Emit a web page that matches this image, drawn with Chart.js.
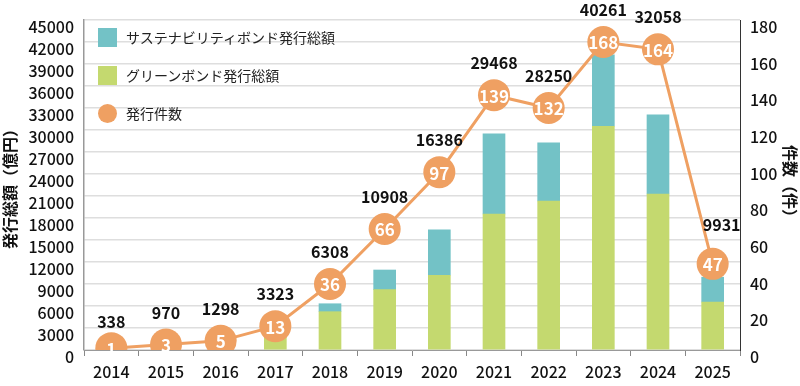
<!DOCTYPE html>
<html>
<head>
<meta charset="utf-8">
<script src="https://cdn.jsdelivr.net/npm/chart.js@4.4.1/dist/chart.umd.min.js"></script>
<style>
  body { margin: 0; background: #fff; }
  #wrap { position: relative; width: 800px; height: 386px; }
  #legend { position: absolute; left: 98px; top: 28px; list-style: none; margin: 0; padding: 0;
    font-family: "Noto Sans CJK JP", sans-serif; font-size: 14px; color: #222; }
  #legend li { height: 19px; line-height: 19px; margin-bottom: 19px; position: relative; padding-left: 28px; }
  #legend .sw { position: absolute; left: 0; top: 0; width: 19px; height: 19px; }
  #legend .dot { border-radius: 50%; }
</style>
</head>
<body>
<div id="wrap">
  <canvas id="myChart" width="800" height="386"></canvas>
  <ul id="legend"></ul>
</div>
<script>
const years = ["2014", "2015", "2016", "2017", "2018", "2019", "2020", "2021", "2022", "2023", "2024", "2025"];
const greenValues = [338, 900, 1200, 3100, 5224, 8225, 10190, 18550, 20324, 30513, 21278, 6547];
const sustainValues = [0, 70, 98, 223, 1084, 2683, 6196, 10918, 7926, 9748, 10780, 3384];
const totals = [338, 970, 1298, 3323, 6308, 10908, 16386, 29468, 28250, 40261, 32058, 9931];
const counts = [1, 3, 5, 13, 36, 66, 97, 139, 132, 168, 164, 47];

const colors = {
  sustain: "#73c2c6",
  green: "#c4d96f",
  count: "#efa062",
};

const font = "'Noto Sans CJK JP', sans-serif";

// 件数の丸の中の数字と、その上の合計額
const labelPlugin = {
  id: "labels",
  afterDatasetsDraw(chart) {
    const ctx = chart.ctx;
    const meta = chart.getDatasetMeta(2);
    ctx.save();
    ctx.textAlign = "center";
    ctx.textBaseline = "middle";
    meta.data.forEach((pt, i) => {
      ctx.fillStyle = "#fff";
      ctx.font = "bold 17px " + font;
      ctx.fillText(counts[i], pt.x, pt.y + 1);
      ctx.fillStyle = "#111";
      ctx.font = "bold 16px " + font;
      let dx = 0, dy = 32;
      if (i === 0) dy = 26;
      if (i === counts.length - 1) { dx = 9; dy = 39; }
      ctx.fillText(totals[i], pt.x + dx, pt.y - dy);
    });
    ctx.restore();
  },
};

const tickFont = { family: font, size: 16, weight: "500" };

const ctx = document.getElementById("myChart").getContext("2d");

new Chart(ctx, {
  data: {
    labels: years,
    datasets: [
      {
        type: "bar",
        label: "グリーンボンド発行総額",
        data: greenValues,
        backgroundColor: colors.green,
        barThickness: 22,
        yAxisID: "y",
        order: 2,
      },
      {
        type: "bar",
        label: "サステナビリティボンド発行総額",
        data: sustainValues,
        backgroundColor: colors.sustain,
        barThickness: 22,
        yAxisID: "y",
        order: 2,
      },
      {
        type: "line",
        label: "発行件数",
        data: counts,
        borderColor: colors.count,
        backgroundColor: colors.count,
        borderWidth: 3,
        pointRadius: 16,
        pointBorderWidth: 0,
        yAxisID: "y1",
        order: 1,
      },
    ],
  },
  options: {
    responsive: false,
    animation: false,
    layout: { padding: { top: 20 } },
    plugins: {
      legend: { display: false },
      tooltip: { enabled: false },
    },
    scales: {
      x: {
        stacked: true,
        grid: { drawOnChartArea: false, tickLength: 6, color: "#888" },
        border: { color: "#999" },
        ticks: { color: "#111", font: tickFont, padding: 6 },
        afterFit(scale) { scale.height = 36; },
      },
      y: {
        stacked: true,
        position: "left",
        min: 0,
        max: 45000,
        ticks: { stepSize: 3000, autoSkip: false, color: "#111", font: tickFont, padding: 10, labelOffset: 7, callback: (v) => String(v) },
        grid: { color: "#dedede", lineWidth: 1.5, drawTicks: false },
        border: { color: "#999", width: 1.5 },
        title: { display: true, text: "発行総額（億円）", color: "#111", font: { family: font, size: 16, weight: "bold" }, padding: 0 },
        afterFit(scale) { scale.width = 84; },
      },
      y1: {
        position: "right",
        min: 0,
        max: 180,
        ticks: { stepSize: 20, autoSkip: false, color: "#111", font: tickFont, padding: 10, labelOffset: 7 },
        grid: { drawOnChartArea: false, drawTicks: false },
        border: { color: "#333", width: 1 },
        title: { display: true, text: "件数（件）", color: "#111", font: { family: font, size: 16, weight: "bold" }, padding: 0 },
        afterFit(scale) { scale.width = 60; },
      },
    },
  },
  plugins: [labelPlugin],
});

const legendItems = [
  { label: "サステナビリティボンド発行総額", color: colors.sustain, dot: false },
  { label: "グリーンボンド発行総額", color: colors.green, dot: false },
  { label: "発行件数", color: colors.count, dot: true },
];
const legendContainer = document.getElementById("legend");
legendItems.forEach((item) => {
  const li = document.createElement("li");
  li.innerHTML = `<span class="sw${item.dot ? " dot" : ""}" style="background-color: ${item.color}"></span>${item.label}`;
  legendContainer.appendChild(li);
});
</script>
</body>
</html>
